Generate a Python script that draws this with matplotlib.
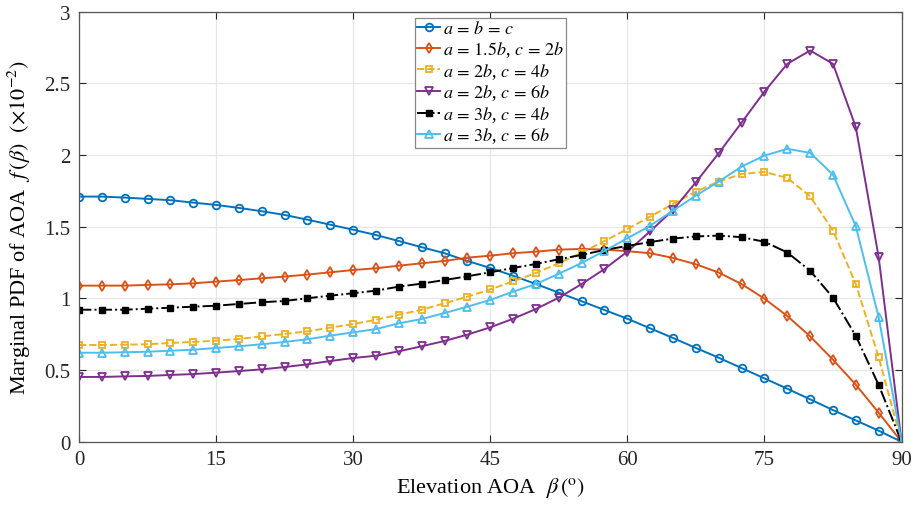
import numpy as np
import matplotlib.pyplot as plt

# elevation angle (deg), samples every 2.5 deg
beta = np.arange(0, 90.1, 2.5)

# marginal PDF values (x1e-2)
f_abc = [1.71, 1.71, 1.703, 1.694, 1.685, 1.668, 1.652, 1.631, 1.608, 1.582, 1.549, 1.514, 1.479,
         1.442, 1.400, 1.357, 1.315, 1.261, 1.212, 1.158, 1.100, 1.040, 0.980, 0.919, 0.858,
         0.791, 0.724, 0.654, 0.586, 0.514, 0.442, 0.370, 0.296, 0.221, 0.149, 0.077, 0.0]
f_15b_2b = [1.089, 1.089, 1.089, 1.094, 1.098, 1.105, 1.117, 1.128, 1.140, 1.152, 1.166, 1.182, 1.198,
            1.210, 1.228, 1.245, 1.261, 1.284, 1.298, 1.315, 1.326, 1.340, 1.345, 1.340, 1.329,
            1.315, 1.282, 1.238, 1.180, 1.100, 0.998, 0.877, 0.735, 0.572, 0.398, 0.202, 0.0]
f_2b_4b = [0.675, 0.675, 0.677, 0.680, 0.689, 0.696, 0.705, 0.717, 0.735, 0.752, 0.770, 0.796, 0.821,
           0.851, 0.886, 0.921, 0.966, 1.012, 1.063, 1.119, 1.177, 1.245, 1.319, 1.400, 1.484,
           1.570, 1.659, 1.745, 1.815, 1.868, 1.882, 1.840, 1.712, 1.473, 1.100, 0.589, 0.0]
f_2b_6b = [0.452, 0.452, 0.456, 0.459, 0.466, 0.472, 0.482, 0.493, 0.505, 0.521, 0.540, 0.563, 0.584,
           0.600, 0.631, 0.666, 0.703, 0.747, 0.798, 0.858, 0.926, 1.005, 1.100, 1.205, 1.326,
           1.468, 1.617, 1.810, 2.013, 2.226, 2.442, 2.636, 2.729, 2.636, 2.194, 1.287, 0.0]
f_3b_4b = [0.921, 0.921, 0.921, 0.928, 0.935, 0.942, 0.949, 0.961, 0.973, 0.982, 1.001, 1.019, 1.036,
           1.054, 1.082, 1.103, 1.128, 1.154, 1.182, 1.212, 1.240, 1.273, 1.303, 1.338, 1.366,
           1.393, 1.417, 1.432, 1.438, 1.427, 1.395, 1.320, 1.193, 1.005, 0.738, 0.396, 0.0]
f_3b_6b = [0.621, 0.621, 0.624, 0.628, 0.635, 0.642, 0.654, 0.666, 0.680, 0.696, 0.715, 0.740, 0.763,
           0.786, 0.826, 0.856, 0.898, 0.942, 0.989, 1.047, 1.100, 1.172, 1.247, 1.331, 1.419,
           1.507, 1.612, 1.717, 1.815, 1.919, 1.996, 2.043, 2.015, 1.863, 1.503, 0.868, 0.0]

labels = [r'$a\,=\,b\,=\,c$', r'$a\,=\,1.5b$, $c\,=\,2b$', r'$a\,=\,2b$, $c\,=\,4b$',
          r'$a\,=\,2b$, $c\,=\,6b$', r'$a\,=\,3b$, $c\,=\,4b$', r'$a\,=\,3b$, $c\,=\,6b$']

plt.rcParams['font.family'] = ['Liberation Serif', 'DejaVu Serif']
plt.rcParams['mathtext.fontset'] = 'stix'

fig = plt.figure(figsize=(9.16, 5.06), dpi=100)
ax = fig.add_axes([0.0862, 0.125, 0.898, 0.85])

ms = 5.5
ax.plot(beta, f_abc, '-o', color='#0072BD', mfc='none', ms=ms, lw=1.4, mew=1.3, label=labels[0])
ax.plot(beta, f_15b_2b, '-d', color='#D95319', mfc='none', ms=ms, lw=1.4, mew=1.3, label=labels[1])
ax.plot(beta, f_2b_4b, '--s', color='#EDB120', mfc='none', ms=5, lw=1.4, mew=1.3, label=labels[2])
ax.plot(beta, f_2b_6b, '-v', color='#7E2F8E', mfc='none', ms=ms, lw=1.4, mew=1.3, label=labels[3])
ax.plot(beta, f_3b_4b, '-.s', color='black', mfc='black', ms=4.5, lw=1.4, mew=1.0, label=labels[4])
ax.plot(beta, f_3b_6b, '-^', color='#4DBEEE', mfc='none', ms=ms, lw=1.4, mew=1.3, label=labels[5])

ax.set_xlim(0, 90)
ax.set_ylim(0, 3)
ax.set_xticks(np.arange(0, 91, 15))
ax.set_yticks(np.arange(0, 3.01, 0.5))
ax.set_yticklabels(['0', '0.5', '1', '1.5', '2', '2.5', '3'])
ax.grid(True, color='#e6e6e6', lw=0.9)
ax.set_axisbelow(True)
for s in ax.spines.values():
    s.set_color('#555555')
    s.set_linewidth(0.9)
ax.tick_params(direction='in', top=True, right=True, labelsize=15, colors='#262626',
               length=5, width=0.8, pad=6)

ax.set_xlabel(r'Elevation AOA  $\beta\,(^{\rm o})$', fontsize=16, labelpad=4)
ax.set_ylabel(r'Marginal PDF of AOA  $f\,(\beta)$  $(\times10^{-2})$', fontsize=16, labelpad=8)

leg = ax.legend(loc='upper center', bbox_to_anchor=(0.5, 0.985), fontsize=13,
                handlelength=1.3, handletextpad=0.15, borderpad=0.12, labelspacing=0.1,
                fancybox=False, framealpha=1, edgecolor='#888888', borderaxespad=0.0)
leg.get_frame().set_linewidth(0.9)

fig.savefig('out.png', dpi=100)
